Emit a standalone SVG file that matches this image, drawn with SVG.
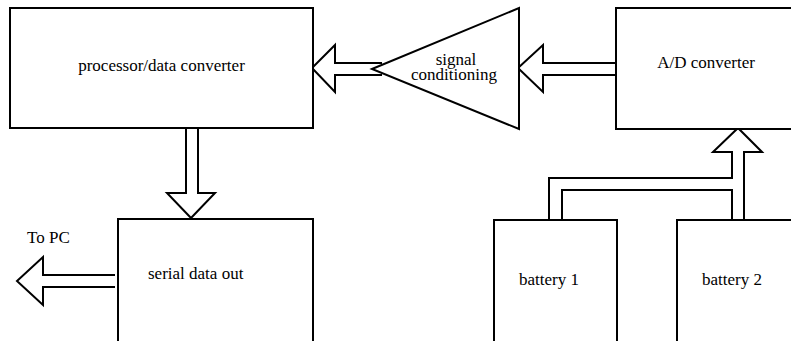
<svg xmlns="http://www.w3.org/2000/svg" width="791" height="341" viewBox="0 0 791 341">
<style>
.box{fill:#fff;stroke:#000;stroke-width:2}
.arr{fill:#fff;stroke:#000;stroke-width:2;stroke-linejoin:miter}
.wire{fill:none;stroke:#000;stroke-width:2;stroke-linejoin:miter}
.lbl{font-family:'Liberation Serif','Times New Roman',serif;font-size:17px;fill:#000}
</style>
<rect width="791" height="341" fill="#fff"/>
<g id="connectors">
<path class="arr" d="M382,63 H335 V45 L312,68 L335,92 V75 H382"/>
<path class="arr" d="M617,63 H543 V45 L518,68 L543,92 V75 H617"/>
<path class="arr" d="M186,129 V193 H167 L191,218 L215,193 H198 V129"/>
<path class="arr" d="M115,275 H43 V257 L17,281 L43,305 V287 H115"/>
<path class="wire" d="M549,220 V178 H732 V152 H713 L738,128 L762,152 H744 V220"/>
<path class="wire" d="M562,220 V190 H732 V220"/>
</g>
<g id="processor">
<rect class="box" x="10" y="8" width="303" height="120"/>
<text class="lbl" x="161.5" y="71" text-anchor="middle">processor/data converter</text>
</g>
<g id="signal-conditioning">
<polygon class="box" points="372,69 519,8 519,129"/>
<text class="lbl" x="456" y="65" text-anchor="middle">signal</text>
<text class="lbl" x="454" y="80" text-anchor="middle">conditioning</text>
</g>
<g id="ad-converter">
<rect class="box" x="616" y="8" width="185" height="121"/>
<text class="lbl" x="706" y="68" text-anchor="middle">A/D converter</text>
</g>
<g id="serial-data-out">
<rect class="box" x="118" y="219" width="195" height="130"/>
<text class="lbl" x="148" y="279">serial data out</text>
</g>
<g id="to-pc">
<text class="lbl" x="27" y="243">To PC</text>
</g>
<g id="battery1">
<rect class="box" x="494" y="220" width="123" height="130"/>
<text class="lbl" x="519" y="285">battery 1</text>
</g>
<g id="battery2">
<rect class="box" x="677" y="220" width="130" height="130"/>
<text class="lbl" x="702" y="285">battery 2</text>
</g>
</svg>
